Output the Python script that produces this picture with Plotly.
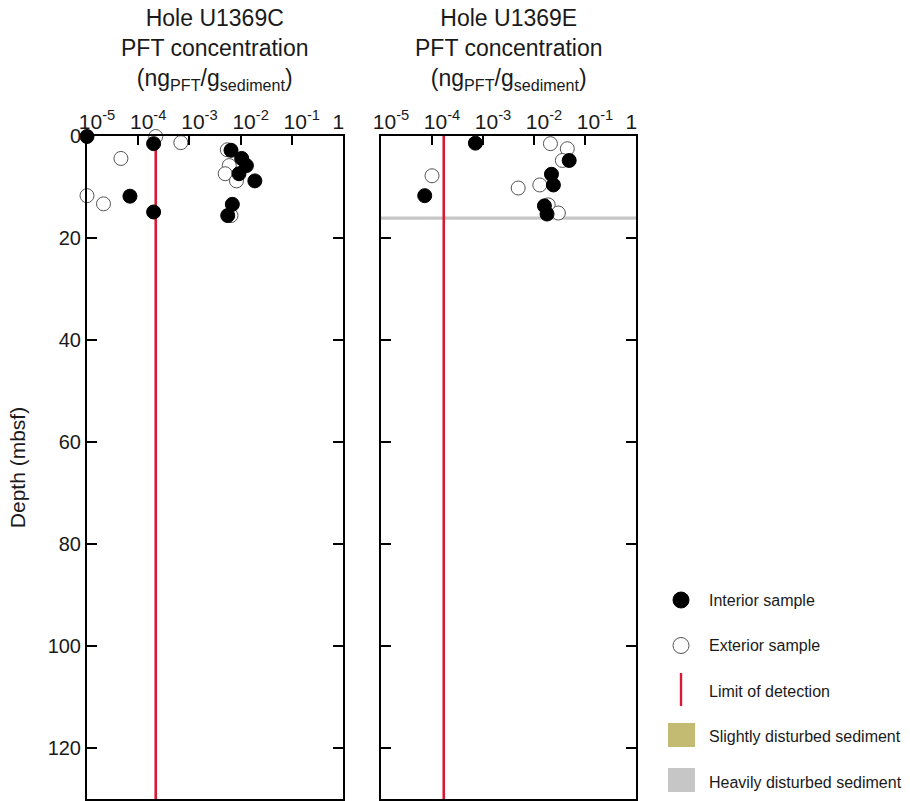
import plotly.graph_objects as go

# ---------------- data ----------------
# Hole U1369C
c_int_depth = [0.1, 1.5, 2.8, 4.4, 5.8, 7.4, 8.8, 11.8, 13.4, 14.9, 15.6]
c_int_conc = [1.0e-5, 2.0e-4, 6.5e-3, 1.05e-2, 1.3e-2, 9.3e-3, 1.9e-2, 6.9e-5, 6.9e-3, 2.0e-4, 5.6e-3]
c_ext_depth = [0.1, 1.3, 2.7, 4.4, 5.8, 7.4, 8.8, 11.7, 13.3, 15.6]
c_ext_conc = [2.2e-4, 6.8e-4, 5.5e-3, 4.6e-5, 6.0e-3, 5.0e-3, 8.3e-3, 1.0e-5, 2.1e-5, 6.5e-3]
c_lod = 2.2e-4

# Hole U1369E
e_int_depth = [1.4, 4.8, 7.5, 9.6, 11.7, 13.7, 15.3]
e_int_conc = [7.1e-4, 4.9e-2, 2.2e-2, 2.4e-2, 7.2e-5, 1.6e-2, 1.8e-2]
e_ext_depth = [1.5, 2.5, 4.8, 7.8, 9.6, 10.2, 13.5, 15.1]
e_ext_conc = [2.1e-2, 4.5e-2, 3.6e-2, 1.0e-4, 1.3e-2, 4.9e-3, 1.9e-2, 3.0e-2]
e_lod = 1.7e-4
e_heavy_top, e_heavy_bottom = 15.8, 16.4

depth_range = [130, 0]
x_tickvals = [1e-5, 1e-4, 1e-3, 1e-2, 1e-1, 1]
x_ticktext = ["10<sup>-5</sup>", "10<sup>-4</sup>", "10<sup>-3</sup>",
              "10<sup>-2</sup>", "10<sup>-1</sup>", "1" + "&nbsp;" * 5]
y_tickvals = [0, 20, 40, 60, 80, 100, 120]

titles = ["Hole U1369C<br>PFT concentration<br>(ng<sub>PFT</sub>/g<sub>sediment</sub>)",
          "Hole U1369E<br>PFT concentration<br>(ng<sub>PFT</sub>/g<sub>sediment</sub>)"]

legend_labels = ["Interior sample", "Exterior sample", "Limit of detection",
                 "Slightly disturbed sediment", "Heavily disturbed sediment"]

# ---------------- style ----------------
FONT = "Liberation Sans, Arial, Helvetica, sans-serif"
TXT = "#1a1a1a"
RED = "#D81B34"
GOLD = "#C4BB73"
GRAY = "#C6C6C6"
W, H = 910, 801
L, R, T, B = 87, 274, 136, 2
PW, PH = W - L - R, H - T - B

fig = go.Figure()

panels = [
    dict(xa="x", ya="y", lod=c_lod, idp=c_int_depth, ic=c_int_conc, edp=c_ext_depth, ec=c_ext_conc),
    dict(xa="x2", ya="y2", lod=e_lod, idp=e_int_depth, ic=e_int_conc, edp=e_ext_depth, ec=e_ext_conc),
]
for p in panels:
    fig.add_trace(go.Scatter(x=[p["lod"], p["lod"]], y=[0, 130], mode="lines",
                             line=dict(color=RED, width=2.6), xaxis=p["xa"], yaxis=p["ya"],
                             showlegend=False, hoverinfo="skip"))
    fig.add_trace(go.Scatter(x=p["ec"], y=p["edp"], mode="markers",
                             marker=dict(size=14, color="white", line=dict(color="#555555", width=1)),
                             xaxis=p["xa"], yaxis=p["ya"], showlegend=False, cliponaxis=False))
    fig.add_trace(go.Scatter(x=p["ic"], y=p["idp"], mode="markers",
                             marker=dict(size=14, color="black", line=dict(color="black", width=1)),
                             xaxis=p["xa"], yaxis=p["ya"], showlegend=False, cliponaxis=False))

# heavily disturbed band in U1369E
fig.add_shape(type="rect", xref="x2 domain", yref="y2", x0=0, x1=1,
              y0=e_heavy_top, y1=e_heavy_bottom, fillcolor=GRAY, line=dict(width=0), layer="below")

d1 = [0, (343 - L) / PW]
d2 = [(381 - L) / PW, 1]

xcommon = dict(type="log", range=[-5, 0], side="top", tickvals=x_tickvals, ticktext=x_ticktext,
               ticks="inside", ticklen=9, tickwidth=2, tickcolor="black",
               showline=True, linecolor="black", linewidth=2, mirror=True,
               showgrid=False, zeroline=False, automargin=False, ticklabelshift=10,
               ticklabelstandoff=-3,
               tickfont=dict(family=FONT, size=21, color=TXT))
ycommon = dict(range=depth_range, tickvals=y_tickvals,
               ticks="inside", ticklen=10, tickwidth=2, tickcolor="black",
               showline=True, linecolor="black", linewidth=2, mirror="ticks",
               showgrid=False, zeroline=False, automargin=False,
               tickfont=dict(family=FONT, size=20, color=TXT))

fig.update_layout(
    width=W, height=H, margin=dict(l=L, r=R, t=T, b=B),
    plot_bgcolor="white", paper_bgcolor="white",
    xaxis=dict(xcommon, domain=d1, anchor="y"),
    xaxis2=dict(xcommon, domain=d2, anchor="y2"),
    yaxis=dict(ycommon, domain=[0, 1], anchor="x",
               title=dict(text="Depth (mbsf)", font=dict(family=FONT, size=21, color=TXT), standoff=16)),
    yaxis2=dict(ycommon, domain=[0, 1], anchor="x2", showticklabels=False),
)

def px(xp):
    return (xp - L) / PW

def py(yp):
    return (H - B - yp) / PH

# titles
for i, dom in enumerate([d1, d2]):
    fig.add_annotation(text=titles[i], xref="paper", yref="paper",
                       x=(dom[0] + dom[1]) / 2, y=py(3),
                       xanchor="center", yanchor="top", showarrow=False, align="center",
                       font=dict(family=FONT, size=23, color=TXT))

# legend (pixel positions converted to paper coords)
lx, tx = 681, 707
ys = [600, 645.5, 691.5, 736.5, 782.5]
fig.add_shape(type="circle", xref="paper", yref="paper", x0=px(lx - 8), x1=px(lx + 8),
              y0=py(ys[0] + 8), y1=py(ys[0] - 8), fillcolor="black", line=dict(color="black", width=1))
fig.add_shape(type="circle", xref="paper", yref="paper", x0=px(lx - 8), x1=px(lx + 8),
              y0=py(ys[1] + 8), y1=py(ys[1] - 8), fillcolor="white", line=dict(color="#555555", width=1))
fig.add_shape(type="line", xref="paper", yref="paper", x0=px(lx), x1=px(lx),
              y0=py(673), y1=py(706), line=dict(color=RED, width=2.4))
fig.add_shape(type="rect", xref="paper", yref="paper", x0=px(668), x1=px(695),
              y0=py(747), y1=py(723), fillcolor=GOLD, line=dict(width=0))
fig.add_shape(type="rect", xref="paper", yref="paper", x0=px(668), x1=px(695),
              y0=py(792), y1=py(768), fillcolor=GRAY, line=dict(width=0))
for lab, yv in zip(legend_labels, ys):
    fig.add_annotation(text=lab, xref="paper", yref="paper", x=px(tx), y=py(yv),
                       xanchor="left", yanchor="middle", showarrow=False,
                       font=dict(family=FONT, size=16, color=TXT))

fig.write_html("out.html", config={"displayModeBar": False},
               post_script="document.body.style.margin='0';document.body.style.overflow='hidden';")
